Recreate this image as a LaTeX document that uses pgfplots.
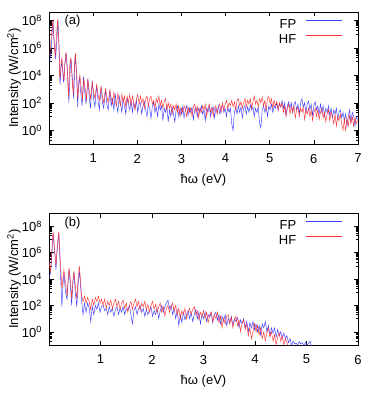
\documentclass[border=0pt]{standalone}
\usepackage{fontspec}
\setmainfont{Liberation Sans}
\usepackage{pgfplots}
\pgfplotsset{compat=1.18}

\definecolor{fpblue}{RGB}{60,60,255}
\definecolor{hfred}{RGB}{255,50,50}

\pgfplotsset{
  legend image code/.code={\path (0pt,0pt); \draw[#1] (9pt,4.7pt) -- (45pt,4.7pt);},
  fp/.style={fpblue, line width=0.45pt},
  hf/.style={hfred, line width=0.45pt},
  spec/.style={
    scale only axis, width=309pt, height=132pt,
    xmin=0,
    tick align=inside, xtick pos=both, ytick pos=both,
    major tick length=4.5pt, minor tick length=2.5pt,
    axis line style={line width=0.7pt},
    every tick/.style={black, line width=0.5pt},
    ytick={1e0,1e2,1e4,1e6,1e8},
    yticklabels={10\textsuperscript{0},10\textsuperscript{2},10\textsuperscript{4},10\textsuperscript{6},10\textsuperscript{8}},
    minor ytick={0.1,0.2,0.3,0.4,0.5,0.6,0.7,0.8,0.9,
      10,20,30,40,50,60,70,80,90,
      1000,2000,3000,4000,5000,6000,7000,8000,9000,
      1e5,2e5,3e5,4e5,5e5,6e5,7e5,8e5,9e5,
      1e7,2e7,3e7,4e7,5e7,6e7,7e7,8e7,9e7},
    /pgf/number format/assume math mode=true,
    xticklabel style={yshift=-5.5pt},
    yticklabel style={xshift=-2.5pt},
    xlabel={ħω (eV)},
    ylabel={Intensity (W/cm\textsuperscript{2})},
    xlabel style={at={(axis description cs:0.5,-0.27)}, anchor=center},
    ylabel style={at={(axis description cs:-0.113,0.5)}, anchor=center},
    legend plot pos=right,
    legend cell align=right,
    legend style={draw=none, fill=none, inner sep=0pt, nodes={inner sep=0pt},
      row sep=4pt, column sep=0pt,
      at={(rel axis cs:0.948,0.945)}, anchor=north east},
  }
}

\begin{document}
\fontsize{13}{15}\selectfont
\begin{tikzpicture}[x=1pt,y=1pt]
\path (0,0) rectangle (382,-401);

\begin{axis}[ymode=log, spec, at={(49pt,-12pt)}, anchor=north west,
  xmax=7, ymin=0.1, ymax=4e8, xtick={1,2,3,4,5,6,7}]
\addplot[fp] coordinates {(0.02,1e5)(0.05,8e5)(0.09,1e8)(0.12,2e6)(0.15,1.5e5)(0.18,5e6)(0.205,1e8)(0.23,1e6)(0.25,2e3)(0.27,3e4)(0.29,1e5)(0.31,2e4)(0.33,3e3)(0.36,6e4)(0.39,4e5)(0.42,2e4)(0.45,1e2)(0.48,3e4)(0.50,1.5e5)(0.53,5e3)(0.56,2e2)(0.59,3e5)(0.62,2e4)(0.65,5e1)(0.67,2e3)(0.69,8e3)(0.72,5e2)(0.75,6e1)(0.78,8e3)(0.81,6e2)(0.84,8e1)(0.88,6e3)(0.91,3e2)(0.94,4e1)(0.98,4e3)(1.01,2e2)(1.04,5e1)(1.08,2e3)(1.11,1.5e2)(1.14,3e1)(1.18,1.5e3)(1.21,1e2)(1.24,4e1)(1.28,1e3)(1.31,8e1)(1.34,3e1)(1.38,8e2)(1.41,6e1)(1.44,2e2)(1.47,3e1)(1.50,4e2)(1.53,8e1)(1.56,2e1)(1.59,3e2)(1.62,1e2)(1.65,2e1)(1.68,2e2)(1.71,6e1)(1.74,1.5e1)(1.77,2e2)(1.80,8e1)(1.83,3e1)(1.86,1.5e2)(1.89,2e1)(1.92,1e2)(1.95,4e1)(1.98,1.5e2)(2.01,2e1)(2.04,8e1)(2.07,1e2)(2.10,1.5e1)(2.13,6e1)(2.16,1.2e2)(2.19,3e1)(2.22,1e1)(2.25,8e1)(2.28,4e1)(2.31,7)(2.34,5e1)(2.37,1e2)(2.40,2e1)(2.43,5e1)(2.46,1e1)(2.49,8e1)(2.52,3e1)(2.55,6e1)(2.58,5)(2.61,4e1)(2.64,2e1)(2.67,6e1)(2.70,4)(2.73,3e1)(2.76,1e1)(2.79,5e1)(2.82,1.5e1)(2.85,4)(2.88,3e1)(2.91,6e1)(2.94,1e1)(2.97,4e1)(3.00,1.5e1)(3.03,5e1)(3.06,8)(3.09,3e1)(3.12,6e1)(3.15,1.2e1)(3.18,4e1)(3.21,2e1)(3.24,5e1)(3.27,6)(3.30,3e1)(3.33,5e1)(3.36,1e1)(3.39,4e1)(3.42,2e1)(3.45,6e1)(3.48,1.5e1)(3.51,3e1)(3.54,5)(3.57,4e1)(3.60,2e1)(3.63,6e1)(3.66,1e1)(3.69,3e1)(3.72,5e1)(3.75,8)(3.78,4e1)(3.81,2e1)(3.84,6e1)(3.87,1.5e1)(3.90,4e1)(3.93,7e1)(3.96,2e1)(3.99,4e1)(4.02,1e1)(4.05,5e1)(4.08,2e1)(4.11,4e1)(4.14,3)(4.17,1)(4.20,2e1)(4.23,5e1)(4.26,1.5e1)(4.29,6e1)(4.32,2e1)(4.35,5e1)(4.38,8)(4.41,4e1)(4.44,6e1)(4.47,1.5e1)(4.50,5e1)(4.53,2e1)(4.56,7e1)(4.59,3e1)(4.62,5e1)(4.65,1e1)(4.68,4e1)(4.71,2e1)(4.74,5e1)(4.77,3)(4.80,1.5)(4.83,3e1)(4.86,6e1)(4.89,2e1)(4.92,5e1)(4.95,1e1)(4.98,6e1)(5.01,3e1)(5.04,8e1)(5.07,2e1)(5.10,6e1)(5.13,4e1)(5.16,1e2)(5.19,3e1)(5.22,8e1)(5.25,5e1)(5.28,1.5e2)(5.31,4e1)(5.34,1e2)(5.37,1.2e1)(5.40,6e1)(5.43,1.2e2)(5.46,4e1)(5.49,1e2)(5.52,2e1)(5.55,8e1)(5.58,1.2e2)(5.61,3e1)(5.64,8e1)(5.67,1.5e1)(5.70,1e2)(5.73,2e2)(5.76,5e1)(5.79,1e2)(5.82,2e1)(5.85,8e1)(5.88,1.3e2)(5.91,3e1)(5.94,8e1)(5.97,1.2e1)(6.00,6e1)(6.03,1.2e2)(6.06,3e1)(6.09,6e1)(6.12,1.5e1)(6.15,8e1)(6.18,2e1)(6.21,6e1)(6.24,1e1)(6.27,4e1)(6.30,2e1)(6.33,6e1)(6.36,1.2e1)(6.39,4e1)(6.42,8)(6.45,3e1)(6.48,1.5e1)(6.51,4e1)(6.54,6)(6.57,2e1)(6.60,3e1)(6.63,8)(6.66,2e1)(6.69,5)(6.72,1.5e1)(6.75,2)(6.78,1e1)(6.81,3e1)(6.84,4)(6.87,2e1)(6.90,1.2e1)(6.93,2)(6.96,1e1)(6.99,6)};
\addlegendentry{FP}
\addplot[hf] coordinates {(0.02,3e5)(0.05,6e6)(0.085,1e8)(0.11,5e6)(0.14,2e5)(0.17,8e6)(0.195,1.2e8)(0.22,3e6)(0.245,5e3)(0.27,5e4)(0.29,2e5)(0.31,3e4)(0.34,4e3)(0.36,8e4)(0.385,5e5)(0.41,4e4)(0.44,3e2)(0.47,5e4)(0.495,2e5)(0.52,8e3)(0.55,4e2)(0.58,6e4)(0.60,4e5)(0.63,1e4)(0.65,2e2)(0.68,3e3)(0.70,1e4)(0.73,1e3)(0.76,2e2)(0.79,6e3)(0.82,1e3)(0.85,2e2)(0.88,5e3)(0.91,8e2)(0.94,2e2)(0.98,3e3)(1.01,6e2)(1.04,2e2)(1.08,2e3)(1.11,4e2)(1.14,1.5e2)(1.18,1.5e3)(1.21,3e2)(1.24,1e2)(1.28,1e3)(1.31,3e2)(1.34,1e2)(1.38,8e2)(1.41,2e2)(1.44,8e1)(1.47,6e2)(1.50,1.5e2)(1.53,6e1)(1.56,5e2)(1.59,1.5e2)(1.62,6e1)(1.65,4e2)(1.68,1e2)(1.71,3e2)(1.74,5e1)(1.77,3e2)(1.80,1e2)(1.83,4e2)(1.86,6e1)(1.89,3e2)(1.92,1e2)(1.95,3e1)(1.98,2e2)(2.01,4e2)(2.04,8e1)(2.07,3e2)(2.10,1e2)(2.13,2e2)(2.16,4e1)(2.19,2e2)(2.22,3e2)(2.25,6e1)(2.28,2e2)(2.31,3e2)(2.34,8e1)(2.37,1.5e2)(2.40,4e1)(2.43,2e2)(2.46,1e2)(2.49,3e2)(2.52,6e1)(2.55,1.5e2)(2.58,4e1)(2.61,1.2e2)(2.64,2e2)(2.67,3e1)(2.70,1e2)(2.73,4e1)(2.76,8e1)(2.79,1.5e1)(2.82,6e1)(2.85,3e1)(2.88,8e1)(2.91,2e1)(2.94,6e1)(2.97,1e1)(3.00,4e1)(3.03,2e1)(3.06,6e1)(3.09,3e1)(3.12,1e1)(3.15,5e1)(3.18,2e1)(3.21,4e1)(3.24,1e1)(3.27,5e1)(3.30,8e1)(3.33,2e1)(3.36,5e1)(3.39,8)(3.42,4e1)(3.45,2e1)(3.48,6e1)(3.51,3e1)(3.54,8e1)(3.57,1e1)(3.60,4e1)(3.63,8e1)(3.66,2e1)(3.69,5e1)(3.72,1e1)(3.75,4e1)(3.78,6e1)(3.81,1.5e1)(3.84,5e1)(3.87,8e1)(3.90,2e1)(3.93,1e2)(3.96,3e1)(3.99,8e1)(4.02,1.5e2)(4.05,4e1)(4.08,1e2)(4.11,6e1)(4.14,1.5e2)(4.17,5e1)(4.20,1.2e2)(4.23,3e1)(4.26,1.5e2)(4.29,2e2)(4.32,6e1)(4.35,1.2e2)(4.38,4e1)(4.41,1e2)(4.44,2e2)(4.47,5e1)(4.50,1.5e2)(4.53,8e1)(4.56,2e2)(4.59,4e1)(4.62,1.2e2)(4.65,3e2)(4.68,8e1)(4.71,1.5e2)(4.74,5e1)(4.77,2e2)(4.80,1e2)(4.83,2.5e2)(4.86,6e1)(4.89,1.5e2)(4.92,3e1)(4.95,2e2)(4.98,3e2)(5.01,8e1)(5.04,2e2)(5.07,4e1)(5.10,1.5e2)(5.13,6e1)(5.16,1.2e2)(5.19,3e1)(5.22,1e2)(5.25,5e1)(5.28,1e2)(5.31,2e1)(5.34,6e1)(5.37,1e1)(5.40,4e1)(5.43,8e1)(5.46,1.5e1)(5.49,5e1)(5.52,2e1)(5.55,6e1)(5.58,8)(5.61,3e1)(5.64,5e1)(5.67,1e1)(5.70,4e1)(5.73,2e1)(5.76,5e1)(5.79,6)(5.82,3e1)(5.85,1.5e1)(5.88,4e1)(5.91,1e1)(5.94,3e1)(5.97,5)(6.00,2e1)(6.03,4e1)(6.06,1e1)(6.09,3e1)(6.12,6)(6.15,2e1)(6.18,4e1)(6.21,8)(6.24,2e1)(6.27,4)(6.30,1.5e1)(6.33,3e1)(6.36,5)(6.39,2e1)(6.42,1e1)(6.45,3)(6.48,1.5e1)(6.51,2)(6.54,1e1)(6.57,5)(6.60,1.5e1)(6.63,3)(6.66,1)(6.69,6)(6.72,1)(6.75,8)(6.78,2)(6.81,1.2e1)(6.84,3)(6.87,1e1)(6.90,2)(6.93,8)(6.96,3)(6.99,5)};
\addlegendentry{HF}
\node[anchor=center] at (rel axis cs:0.076,0.927) {(a)};
\end{axis}

\begin{axis}[ymode=log, spec, at={(49pt,-213pt)}, anchor=north west,
  xmax=6, ymin=0.1, ymax=1e9, xtick={1,2,3,4,5,6}]
\addplot[fp] coordinates {(0.00,1.2e4)(0.03,3e4)(0.08,3e7)(0.11,1e6)(0.135,5e4)(0.16,2e6)(0.19,3e7)(0.22,5e4)(0.25,8e1)(0.27,3e3)(0.29,3e4)(0.32,1e3)(0.35,3e2)(0.37,5e3)(0.39,5e4)(0.42,2e3)(0.44,1e2)(0.46,3e3)(0.485,3e4)(0.51,1e3)(0.54,8e1)(0.56,2e3)(0.59,4e4)(0.61,5e3)(0.63,3e2)(0.66,2e1)(0.69,1.5e2)(0.72,3e1)(0.75,1.5e2)(0.78,6e1)(0.81,6)(0.84,8e1)(0.87,2e1)(0.90,1e2)(0.93,5e1)(0.96,1.5e2)(0.99,3e1)(1.02,8e1)(1.05,1e2)(1.08,4e1)(1.11,6e1)(1.14,2e1)(1.17,8e1)(1.20,3e1)(1.23,6e1)(1.26,1.5e1)(1.29,5e1)(1.32,8e1)(1.35,2e1)(1.38,6e1)(1.41,3e1)(1.44,8e1)(1.47,2e1)(1.50,6e1)(1.53,4e1)(1.56,1e2)(1.59,2e1)(1.62,4)(1.65,4e1)(1.68,8e1)(1.71,2e1)(1.74,6e1)(1.77,1e2)(1.80,3e1)(1.83,6e1)(1.86,1.5e1)(1.89,5e1)(1.92,2e1)(1.95,4e1)(1.98,8e1)(2.01,1.5e1)(2.04,4e1)(2.07,2e1)(2.10,6e1)(2.13,1e1)(2.16,4e1)(2.19,1e2)(2.22,3e1)(2.25,8e1)(2.28,1.5e2)(2.31,2.5e2)(2.34,6e1)(2.37,1e2)(2.40,2e1)(2.43,6e1)(2.46,1e1)(2.49,4e1)(2.52,3)(2.55,2e1)(2.58,5)(2.61,3e1)(2.64,8)(2.67,2e1)(2.70,4e1)(2.73,1e1)(2.76,3e1)(2.79,6)(2.82,2e1)(2.85,5e1)(2.88,1e1)(2.91,3e1)(2.94,4)(2.97,2e1)(3.00,1e1)(3.03,3e1)(3.06,6)(3.09,2e1)(3.12,1.2e1)(3.15,3e1)(3.18,5)(3.21,2e1)(3.24,3e1)(3.27,8)(3.30,2e1)(3.33,4)(3.36,1.5e1)(3.39,6)(3.42,2e1)(3.45,3)(3.48,1e1)(3.51,5)(3.54,1.5e1)(3.57,3)(3.60,1e1)(3.63,6)(3.66,1.2e1)(3.69,2)(3.72,8)(3.75,4)(3.78,1e1)(3.81,2)(3.84,6)(3.87,1)(3.90,5)(3.93,2)(3.96,6)(3.99,1.5)(4.02,4)(4.05,1)(4.08,3)(4.11,0.6)(4.14,4)(4.17,2)(4.20,6)(4.23,1)(4.26,3)(4.29,0.5)(4.32,2)(4.35,0.8)(4.38,2)(4.41,0.4)(4.44,1.5)(4.47,0.5)(4.50,1)(4.53,0.3)(4.56,0.8)(4.59,0.3)(4.62,0.5)(4.65,0.15)(4.68,0.3)(4.71,0.1)(4.74,0.2)(4.77,0.12)(4.80,0.14)(4.83,0.1)(4.86,0.18)(4.89,0.12)(4.92,0.15)(4.95,0.09)(4.98,0.16)(5.01,0.1)(5.04,0.13)(5.07,0.2)(5.10,0.08)(5.13,0.05)};
\addlegendentry{FP}
\addplot[hf] coordinates {(0.00,2e5)(0.03,4e4)(0.08,4e7)(0.11,2e6)(0.135,1e5)(0.16,3e6)(0.19,4e7)(0.22,2e5)(0.25,2e3)(0.27,1e4)(0.29,5e4)(0.32,5e3)(0.35,5e2)(0.37,8e3)(0.39,7e4)(0.42,5e3)(0.44,3e2)(0.46,5e3)(0.485,4e4)(0.51,3e3)(0.54,3e2)(0.56,5e3)(0.59,1e5)(0.61,1e4)(0.63,6e2)(0.66,2e2)(0.69,5e2)(0.72,1.5e2)(0.75,4e2)(0.78,2e2)(0.81,5e1)(0.84,3e2)(0.87,1e2)(0.90,4e2)(0.93,2e2)(0.96,5e2)(0.99,1.5e2)(1.02,3e2)(1.05,1e2)(1.08,3e2)(1.11,6e1)(1.14,2e2)(1.17,1e2)(1.20,2.5e2)(1.23,6e1)(1.26,1.5e2)(1.29,3e2)(1.32,8e1)(1.35,2e2)(1.38,5e1)(1.41,1.5e2)(1.44,2.5e2)(1.47,6e1)(1.50,1.5e2)(1.53,3e1)(1.56,1e2)(1.59,2e2)(1.62,5e1)(1.65,1.5e2)(1.68,3e2)(1.71,8e1)(1.74,2e2)(1.77,4e1)(1.80,1.5e2)(1.83,8e1)(1.86,2e2)(1.89,5e1)(1.92,1.2e2)(1.95,3e1)(1.98,1e2)(2.01,2e2)(2.04,5e1)(2.07,1.2e2)(2.10,3e1)(2.13,8e1)(2.16,1.5e2)(2.19,3e1)(2.22,8e1)(2.25,1.5e1)(2.28,6e1)(2.31,1e2)(2.34,3e1)(2.37,8e1)(2.40,1.5e2)(2.43,4e1)(2.46,1e2)(2.49,2e1)(2.52,6e1)(2.55,1e1)(2.58,4e1)(2.61,2e1)(2.64,6e1)(2.67,1e1)(2.70,3e1)(2.73,6e1)(2.76,2e1)(2.79,5e1)(2.82,8e1)(2.85,2e1)(2.88,4e1)(2.91,8)(2.94,3e1)(2.97,1.5e1)(3.00,4e1)(3.03,1e1)(3.06,3e1)(3.09,5)(3.12,2e1)(3.15,3e1)(3.18,6)(3.21,2e1)(3.24,1e1)(3.27,3e1)(3.30,5)(3.33,1.5e1)(3.36,2)(3.39,1e1)(3.42,4)(3.45,1.5e1)(3.48,2e1)(3.51,4)(3.54,1.2e1)(3.57,2)(3.60,8)(3.63,1.5e1)(3.66,3)(3.69,8)(3.72,1)(3.75,5)(3.78,8)(3.81,1.5)(3.84,4)(3.87,0.5)(3.90,2)(3.93,0.3)(3.96,1)(3.99,4)(4.02,1)(4.05,3)(4.08,0.6)(4.11,2)(4.14,0.3)(4.17,1)(4.20,0.2)(4.23,0.8)(4.26,2)(4.29,0.4)(4.32,1)(4.35,0.2)(4.38,0.6)(4.41,0.1)(4.44,0.4)(4.47,0.8)(4.50,0.2)(4.53,0.5)(4.56,0.1)(4.59,0.3)(4.62,0.15)(4.65,0.08)};
\addlegendentry{HF}
\node[anchor=center] at (rel axis cs:0.076,0.927) {(b)};
\end{axis}
\end{tikzpicture}
\end{document}
